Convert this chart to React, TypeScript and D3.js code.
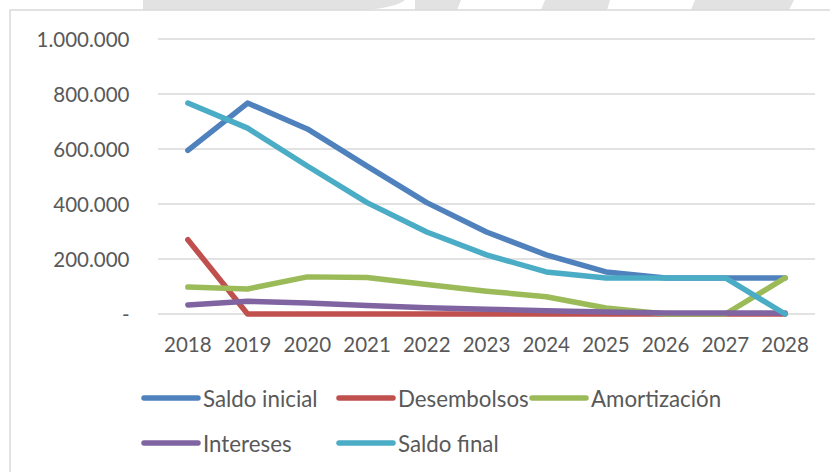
import React from "react";
import * as d3 from "d3";

const years = ["2018", "2019", "2020", "2021", "2022", "2023", "2024", "2025", "2026", "2027", "2028"];
const saldoInicial = [595000, 767000, 673000, 538000, 405000, 298000, 215000, 153000, 131000, 131000, 131000];
const desembolsos = [270000, 0, 0, 0, 0, 0, 0, 0, 0, 0, 0];
const amortizacion = [98000, 91000, 135000, 133000, 107000, 83000, 63000, 22000, 0, 0, 131000];
const intereses = [33000, 46000, 40000, 31000, 23000, 17000, 12000, 7000, 4000, 4000, 4000];
const saldoFinal = [767000, 676000, 538000, 405000, 298000, 215000, 153000, 131000, 131000, 131000, 0];
const yTicks = [0, 200000, 400000, 600000, 800000, 1000000];

const seriesNames = ["Saldo inicial", "Desembolsos", "Amortización", "Intereses", "Saldo final"];
const seriesValues = [saldoInicial, desembolsos, amortizacion, intereses, saldoFinal];
const seriesColors = ["#4F81BD", "#C0504D", "#9BBB59", "#8064A2", "#4BACC6"];

const W = 830;
const H = 472;
const FONT = "Lato, 'Open Sans', sans-serif";
const TEXT = "#595959";

const fmt = (v: number) => (v === 0 ? "-" : d3.format(",")(v).replace(/,/g, "."));

export default function App() {
  const x = d3.scaleBand<string>().domain(years).range([158, 815]);
  const y = d3.scaleLinear().domain([0, 1000000]).range([314, 39]);
  const line = d3
    .line<number>()
    .x((_, i) => (x(years[i]) as number) + x.bandwidth() / 2)
    .y((d) => y(d));

  const legendRows = [
    [0, 1, 2],
    [3, 4],
  ];
  const legendX = [144, 339, 532];
  const legendY = [398, 443];

  return (
    <svg width={W} height={H} style={{ position: "absolute", left: 0, top: 0, background: "#fff" }}>
      {/* watermark fragments */}
      <g fill="#e2e2e2">
        <path d="M143,0 L405,0 Q395,8 362,10 L143,10 Z" />
        <polygon points="415,0 461,0 457,10 415,10" />
        <polygon points="545,0 610,0 607,10 541,10" />
        <polygon points="695,0 794,0 789,10 691,10" />
      </g>
      {/* chart area */}
      <rect x={10} y={10} width={W + 10} height={H + 10} fill="#fff" stroke="#d9d9d9" strokeWidth={1.5} />
      {/* gridlines */}
      {yTicks.map((t) => (
        <line key={t} x1={158} x2={815} y1={y(t)} y2={y(t)} stroke="#d9d9d9" strokeWidth={1.5} />
      ))}
      {/* y labels */}
      {yTicks.map((t) => (
        <text
          key={"l" + t}
          x={129.5}
          y={y(t) + 7.5}
          textAnchor="end"
          fontFamily={FONT}
          fontSize={20.5}
          fill={TEXT}
        >
          {fmt(t)}
        </text>
      ))}
      {/* x labels */}
      {years.map((yr) => (
        <text
          key={yr}
          x={(x(yr) as number) + x.bandwidth() / 2}
          y={352}
          textAnchor="middle"
          fontFamily={FONT}
          fontSize={20.5}
          fill={TEXT}
        >
          {yr}
        </text>
      ))}
      {/* lines */}
      {seriesValues.map((vals, i) => (
        <path
          key={seriesNames[i]}
          d={line(vals) as string}
          fill="none"
          stroke={seriesColors[i]}
          strokeWidth={5.5}
          strokeLinecap="round"
          strokeLinejoin="round"
        />
      ))}
      {/* legend */}
      {legendRows.map((row, r) =>
        row.map((si, c) => (
          <g key={seriesNames[si]}>
            <line
              x1={legendX[c]}
              x2={legendX[c] + 54}
              y1={legendY[r]}
              y2={legendY[r]}
              stroke={seriesColors[si]}
              strokeWidth={5.5}
              strokeLinecap="round"
            />
            <text
              x={legendX[c] + 59}
              y={legendY[r] + 8.5}
              fontFamily={FONT}
              fontSize={22.3}
              fill={TEXT}
            >
              {seriesNames[si]}
            </text>
          </g>
        ))
      )}
    </svg>
  );
}
